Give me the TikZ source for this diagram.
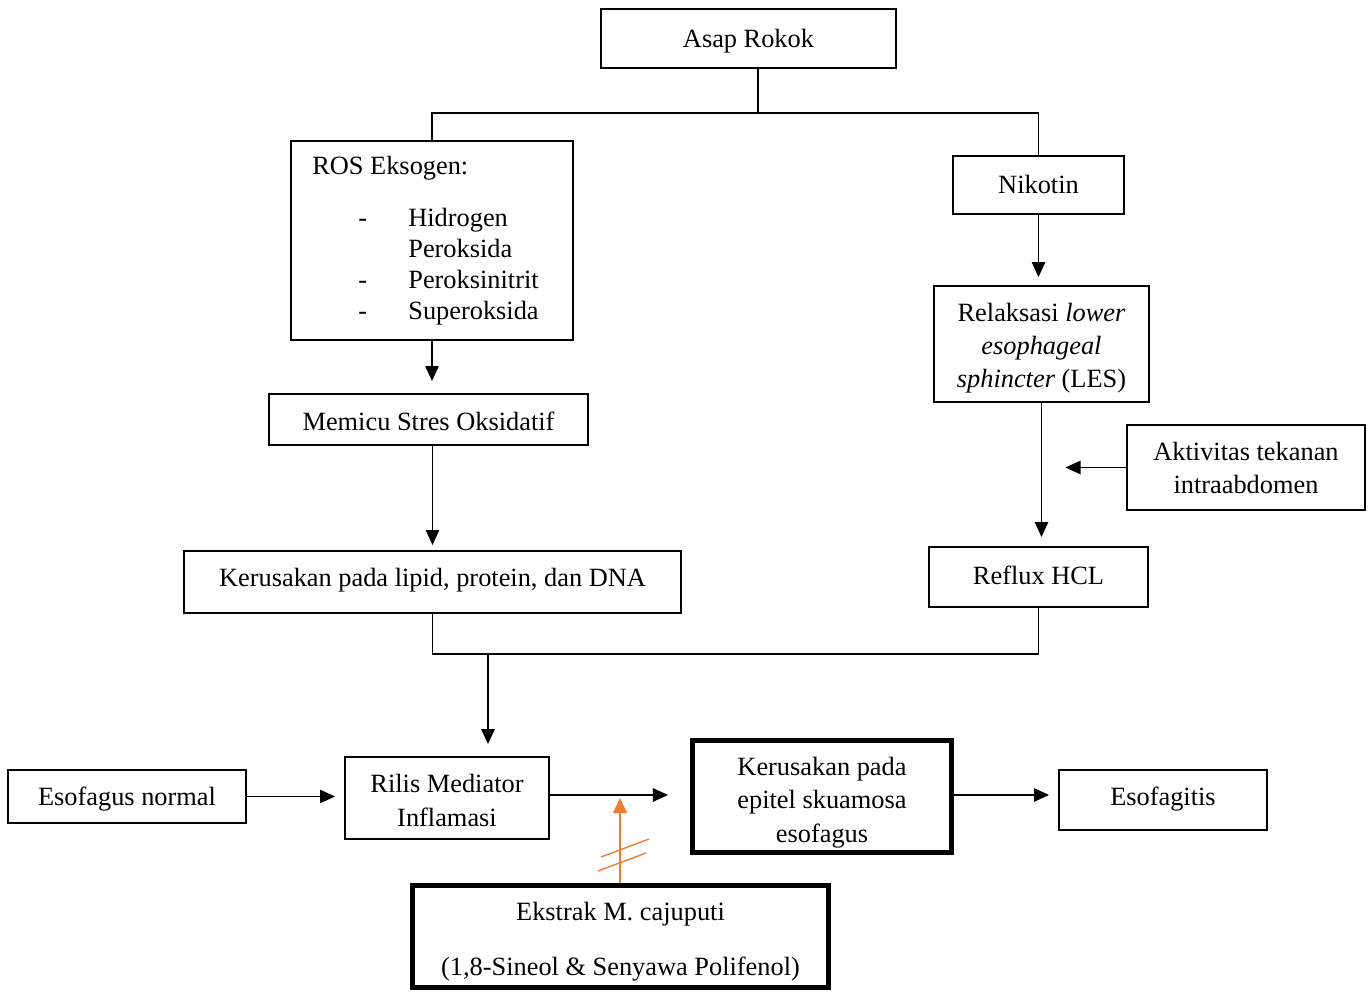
\documentclass[tikz,border=0pt]{standalone}
\usepackage{fontspec}
\setmainfont{Liberation Serif}
\usetikzlibrary{arrows.meta}
\definecolor{orangeline}{RGB}{237,125,49}
\tikzset{
	box/.style={draw, line width=1.1pt, align=center, inner sep=0pt},
	thickbox/.style={draw, line width=2.9pt, align=center, inner sep=0pt},
	bl/.style={text depth=0pt, text height=#1},
	txt/.style={inner sep=0pt, anchor=base west},
	link/.style={line width=0.6pt},
	arr/.style={line width=0.6pt, -{Triangle[length=0.3cm, width=0.27cm]}}
}

\begin{document}
\begin{tikzpicture}[font=\fontsize{15}{18.8}\selectfont]
			%%%%% START %%%%%
			\useasboundingbox (0, 0) rectangle (27.44, -19.84);
			
			\node[box, bl=0.36cm, minimum width=5.9cm, minimum height=1.18cm] (asap) at (14.97, -0.77) {Asap Rokok};
			
			\node[box, minimum width=5.64cm, minimum height=3.98cm] (ros) at (8.64, -4.81) {};
			\node[txt] (ros0) at (6.24, -3.50) {ROS Eksogen:};
			\node[txt] (ros1) at (7.16, -4.54) {-};
			\node[txt] (ros2) at (8.16, -4.54) {Hidrogen};
			\node[txt] (ros3) at (8.16, -5.16) {Peroksida};
			\node[txt] (ros4) at (7.16, -5.78) {-};
			\node[txt] (ros5) at (8.16, -5.78) {Peroksinitrit};
			\node[txt] (ros6) at (7.16, -6.40) {-};
			\node[txt] (ros7) at (8.16, -6.40) {Superoksida};
			
			\node[box, bl=0.34cm, minimum width=3.42cm, minimum height=1.16cm] (nik) at (20.77, -3.70) {Nikotin};
			\node[box, bl=1.76cm, minimum width=4.30cm, minimum height=2.32cm] (les) at (20.83, -6.88) {Relaksasi \textit{lower}\\ \textit{esophageal}\\ \textit{sphincter} (LES)};
			\node[box, bl=0.46cm, minimum width=6.38cm, minimum height=1.02cm] (mem) at (8.57, -8.39) {Memicu Stres Oksidatif};
			\node[box, bl=1.06cm, minimum width=4.76cm, minimum height=1.70cm] (akt) at (24.92, -9.35) {Aktivitas tekanan\\ intraabdomen};
			\node[box, bl=0.16cm, minimum width=9.94cm, minimum height=1.24cm] (kl) at (8.65, -11.64) {Kerusakan pada lipid, protein, dan DNA};
			\node[box, bl=0.30cm, minimum width=4.38cm, minimum height=1.20cm] (hcl) at (20.77, -11.54) {Reflux HCL};
			
			\node[box, bl=0.34cm, minimum width=4.76cm, minimum height=1.06cm] (eso) at (2.54, -15.93) {Esofagus normal};
			\node[box, bl=1.12cm, minimum width=4.08cm, minimum height=1.64cm] (ril) at (8.94, -15.96) {Rilis Mediator\\ Inflamasi};
			\node[thickbox, minimum width=5.18cm, minimum height=2.24cm] (epi) at (16.44, -15.93) {};
			\node[align=center, inner sep=0pt, bl=1.82cm] (epitxt) at (16.44, -15.93) {Kerusakan pada\\ epitel skuamosa\\ esofagus};
			\node[box, bl=0.20cm, minimum width=4.16cm, minimum height=1.20cm] (esg) at (23.26, -16.00) {Esofagitis};
			\node[thickbox, bl=1.54cm, minimum width=8.32cm, minimum height=2.04cm] (ekt) at (12.41, -18.73) {Ekstrak M. cajuputi\\[0.42cm] (1,8-Sineol \& Senyawa Polifenol)};
			
			% percabangan atas
			\coordinate (split) at (15.16, -2.26);
			\draw[link] (asap.south -| split) -- (split);
			\draw[link] (ros.north) |- (nik.north |- split) -- (nik.north);
			
			\draw[arr, shorten >=0.24cm] (ros.south) -- (ros.south |- mem.north);
			\draw[arr, shorten >=0.16cm] (nik.south) -- (nik.south |- les.north);
			\draw[arr, shorten >=0.10cm] (mem.south -| kl.north) -- (kl.north);
			\draw[arr, shorten >=0.18cm] (les.south) -- (les.south |- hcl.north);
			\draw[arr, shorten >=0.48cm] (akt.west) -- (les.south |- akt.west);
			
			% gabungan bawah
			\coordinate (join) at (8.70, -13.08);
			\coordinate (drop) at (9.76, -13.08);
			\draw[link] (kl.south) |- (hcl.south |- join) -- (hcl.south);
			\draw[arr, shorten >=0.24cm] (drop) -- (drop |- ril.north);
			
			\draw[arr, shorten >=0.18cm] (eso.east) -- (ril.west |- eso.east);
			\draw[arr, shorten >=0.44cm] (ril.east |- 0, -15.90) -- (epi.west |- 0, -15.90);
			\draw[arr, shorten >=0.18cm] (epi.east |- 0, -15.90) -- (esg.west |- 0, -15.90);
			
			% hambatan
			\coordinate (block) at (12.40, -15.96);
			\draw[line width=0.8pt, orangeline, -{Triangle[length=0.3cm, width=0.28cm]}] (ekt.north -| block) -- (block);
			\draw[line width=0.8pt, orangeline] (11.96, -17.42) -- (12.92, -17.06);
			\draw[line width=0.8pt, orangeline] (12.02, -17.14) -- (12.98, -16.78);
			
			%%%%% END %%%%%
\end{tikzpicture}
\end{document}
